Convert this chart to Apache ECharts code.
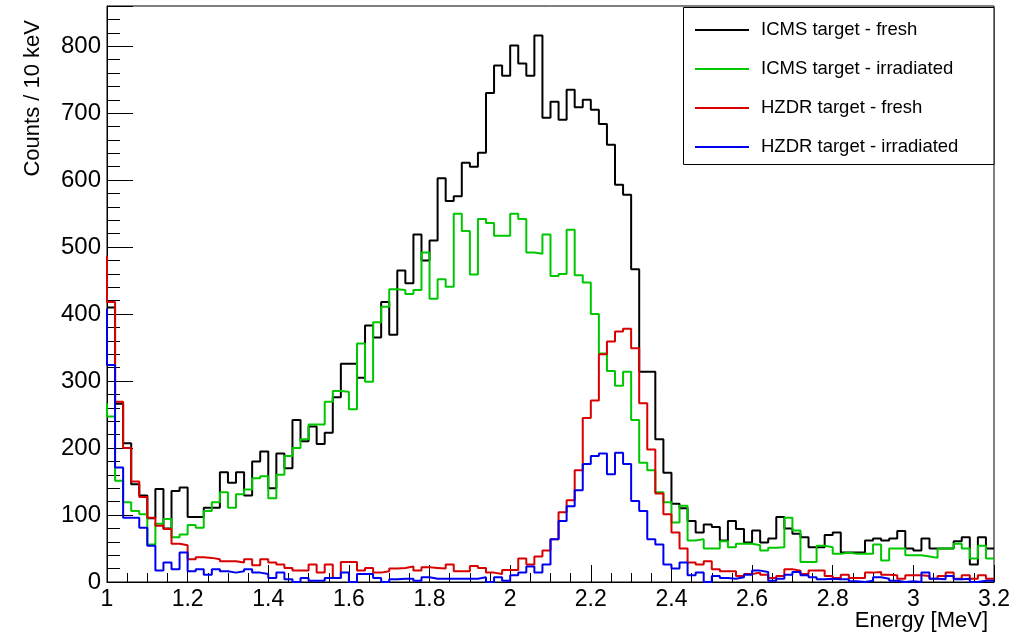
<!DOCTYPE html>
<html><head><meta charset="utf-8">
<script src="https://cdn.jsdelivr.net/npm/echarts@6/dist/echarts.min.js"></script>
<style>html,body{margin:0;padding:0;background:#fff}#c{width:1021px;height:634px}</style>
</head><body><div id="c"></div>
<script>
// Histogram binning (MeV)
const binStart = 1.0;
const binWidth = 0.02;

// Legend names
const seriesNames = ['ICMS target - fresh', 'ICMS target - irradiated', 'HZDR target - fresh', 'HZDR target - irradiated'];

// Axis tick labels
const yTickLabels = ['0','100','200','300','400','500','600','700','800'];
const xTickLabels = ['1','1.2','1.4','1.6','1.8','2','2.2','2.4','2.6','2.8','3','3.2'];

// Content of the bin just left of the plotted range (drawn as the left edge)
const icmsFreshEdge = 410;
const icmsIrrEdge = 267;
const hzdrFreshEdge = 487;
const hzdrIrrEdge = 408;

// Counts per bin, starting at 1.00 MeV
const icmsFresh = [410,266,207,146,129,95,139,80,136,141,
  97,97,111,111,164,148,164,129,180,195,
  140,192,170,242,210,232,206,223,276,326,
  326,305,383,365,418,369,465,446,519,480,
  510,603,569,576,626,620,641,730,771,756,
  801,774,756,816,693,717,690,735,709,720,
  705,684,653,593,578,467,314,314,213,163,
  117,110,91,74,86,82,62,91,79,59,
  77,59,65,97,80,72,67,52,52,70,
  74,44,44,44,62,65,62,65,76,50,
  47,65,50,50,50,61,67,26,67,50];

const icmsIrr = [247,151,119,106,101,56,87,94,67,71,
  85,81,106,119,134,111,131,138,155,158,
  125,160,188,200,213,235,235,269,285,284,
  258,356,299,388,411,437,436,430,436,492,
  423,452,441,550,524,459,542,536,517,517,
  550,542,492,490,519,457,460,526,458,447,
  400,341,315,293,314,242,178,167,134,119,
  89,114,62,64,50,50,61,52,57,57,
  55,47,51,52,96,77,30,30,54,52,
  42,44,42,42,42,56,32,50,50,40,
  40,38,36,50,50,57,50,35,54,35];

const hzdrFresh = [418,269,200,150,127,96,84,79,57,55,
  34,37,36,34,31,31,29,34,25,34,
  29,26,21,17,17,26,14,26,6,30,
  30,17,21,14,16,20,21,23,17,22,
  21,20,26,16,16,24,21,14,12,18,
  18,35,26,38,47,64,104,122,167,245,
  271,340,359,374,378,349,267,198,132,101,
  74,50,29,26,31,19,16,16,9,12,
  14,11,6,9,19,17,12,17,17,9,
  6,11,6,6,14,15,11,10,5,10,
  10,9,5,9,14,5,10,5,10,5];

const hzdrIrr = [324,171,96,96,81,54,17,29,19,44,
  16,19,11,19,16,14,16,19,14,12,
  6,14,4,0,6,2,2,6,6,14,
  0,12,12,6,0,4,5,5,2,7,
  5,5,5,5,5,5,7,0,7,2,
  10,14,23,14,26,64,91,113,137,176,
  188,192,161,193,176,121,106,64,56,26,
  20,29,10,14,0,9,6,5,7,11,
  17,15,2,5,11,15,10,7,4,5,
  4,4,1,0,2,7,5,2,0,1,
  0,14,5,4,9,4,5,0,2,2];

const colors = ['#000000', '#00c800', '#d80000', '#0000f0'];

function histPoints(edge, vals) {
  const pts = [[binStart, edge]];
  vals.forEach((v, i) => pts.push([binStart + i * binWidth, v]));
  pts.push([binStart + vals.length * binWidth, vals[vals.length - 1]]);
  return pts;
}

const datasets = [
  histPoints(icmsFreshEdge, icmsFresh),
  histPoints(icmsIrrEdge, icmsIrr),
  histPoints(hzdrFreshEdge, hzdrFresh),
  histPoints(hzdrIrrEdge, hzdrIrr)
];

const FONT = 'Liberation Sans, Arial, Helvetica, sans-serif';
const chart = echarts.init(document.getElementById('c'), null, {renderer: 'canvas'});

chart.setOption({
  animation: false,
  backgroundColor: '#ffffff',
  grid: {left: 107, right: 27, top: 6, bottom: 52, show: true, borderColor: '#000', borderWidth: 1,
    backgroundColor: 'transparent', containLabel: false, outerBoundsMode: 'none'},
  legend: {
    orient: 'vertical', left: 695, top: 20, padding: 0,
    itemWidth: 54, itemHeight: 2, itemGap: 19, icon: 'rect',
    selectedMode: false,
    textStyle: {fontFamily: FONT, fontSize: 18.5, color: '#000', lineHeight: 20, padding: [0, 0, 0, 7]},
    data: seriesNames
  },
  graphic: [{
    type: 'rect', z: 0, silent: true,
    shape: {x: 683.5, y: 7.5, width: 310.5, height: 157},
    style: {fill: '#fff', stroke: '#000', lineWidth: 1}
  }],
  xAxis: {
    type: 'value', min: 1, max: 3.2, interval: 0.2,
    name: 'Energy [MeV]', nameLocation: 'end', nameGap: -6, nameMoveOverlap: false,
    nameTextStyle: {fontFamily: FONT, fontSize: 22, color: '#000', align: 'right', verticalAlign: 'top', padding: [28, 0, 0, 0]},
    axisLine: {show: true, lineStyle: {color: '#000', width: 1}},
    axisTick: {show: true, inside: true, length: 17, lineStyle: {color: '#000'}},
    minorTick: {show: true, splitNumber: 4, length: 9, lineStyle: {color: '#000'}},
    axisLabel: {fontFamily: FONT, fontSize: 23, color: '#000', margin: 6,
      formatter: v => { const s = String(+v.toFixed(2)); return xTickLabels.includes(s) ? s : ''; }},
    splitLine: {show: false}
  },
  yAxis: [{
    type: 'value', min: 0, max: 860, interval: 100,
    name: 'Counts / 10 keV', nameLocation: 'end', nameGap: -14, nameRotate: 90, nameMoveOverlap: false,
    nameTextStyle: {fontFamily: FONT, fontSize: 22, color: '#000', align: 'right', verticalAlign: 'bottom', padding: [0, 0, 63, 0]},
    axisLine: {show: true, lineStyle: {color: '#000', width: 1}},
    axisTick: {show: true, inside: true, length: 26, lineStyle: {color: '#000'}},
    axisLabel: {fontFamily: FONT, fontSize: 24, color: '#000', margin: 6,
      formatter: v => { const s = String(Math.round(v)); return yTickLabels.includes(s) && v % 100 === 0 ? s : ''; }},
    splitLine: {show: false}
  }, {
    type: 'value', min: 0, max: 860, interval: 20, position: 'left', offset: 0,
    axisLine: {show: false},
    axisTick: {show: true, inside: true, length: 13, lineStyle: {color: '#000'}},
    axisLabel: {show: false},
    splitLine: {show: false}
  }],
  series: seriesNames.map((name, k) => ({
    name: name, type: 'line', step: 'end', yAxisIndex: 0,
    data: datasets[k], showSymbol: false, symbol: 'none', z: 2 + k,
    color: colors[k], itemStyle: {color: colors[k]},
    lineStyle: {color: colors[k], width: 2},
    emphasis: {disabled: true}
  }))
});
</script></body></html>
